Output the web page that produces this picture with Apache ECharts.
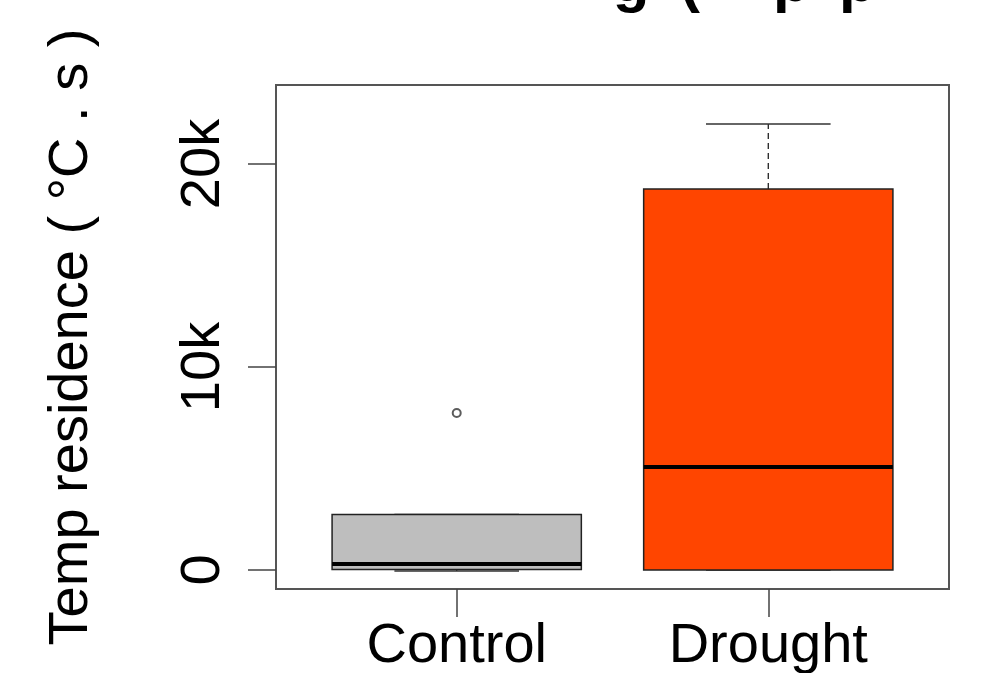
<!DOCTYPE html>
<html>
<head>
<meta charset="utf-8">
<title>Temp residence</title>
<script src="https://cdn.jsdelivr.net/npm/echarts@6/dist/echarts.min.js"></script>
</head>
<body style="margin:0;background:#fff">
<div id="main" style="width:1000px;height:673px;"></div>
<script>
var groups = ['Control', 'Drought'];
var groupColors = ['#bebebe', '#ff4500'];
// lower whisker, Q1, median, Q3, upper whisker
var controlStats = [-50, 30, 300, 2740, 2740];
var droughtStats = [0, 0, 5070, 18770, 21970];
var outliers = [[1, 7730]];
var yTicks = [0, 10000, 20000];
var yTickLabels = ['0', '10k', '20k'];
var xTicks = [1, 2];

var font = 'Liberation Sans, Arial, sans-serif';
var boxData = [[1].concat(controlStats), [2].concat(droughtStats)];

function renderBox(params, api) {
    var x = api.value(0);
    var lo = api.coord([x, api.value(1)]);
    var q1 = api.coord([x, api.value(2)]);
    var med = api.coord([x, api.value(3)]);
    var q3 = api.coord([x, api.value(4)]);
    var hi = api.coord([x, api.value(5)]);
    var w = api.size([0.8, 0])[0];
    var cx = q1[0];
    var half = w / 2, cap = w / 4;
    var dash = { stroke: '#222', lineWidth: 1.3, lineDash: [6, 4] };
    var solid = { stroke: '#333', lineWidth: 1.5 };
    return {
        type: 'group',
        children: [
            { type: 'line', shape: { x1: cx, y1: q3[1], x2: cx, y2: hi[1] }, style: dash },
            { type: 'line', shape: { x1: cx, y1: q1[1], x2: cx, y2: lo[1] }, style: dash },
            { type: 'line', shape: { x1: cx - cap, y1: hi[1], x2: cx + cap, y2: hi[1] }, style: solid },
            { type: 'line', shape: { x1: cx - cap, y1: lo[1], x2: cx + cap, y2: lo[1] }, style: solid },
            {
                type: 'rect',
                shape: { x: cx - half, y: q3[1], width: w, height: q1[1] - q3[1] },
                style: { fill: groupColors[params.dataIndex], stroke: '#222', lineWidth: 1.5 }
            },
            { type: 'line', shape: { x1: cx - half, y1: med[1], x2: cx + half, y2: med[1] }, style: { stroke: '#000', lineWidth: 4 } }
        ]
    };
}

var myChart = echarts.init(document.getElementById('main'));
var titleStyle = { fontFamily: font, fontWeight: 'bold', fontSize: 60, fill: '#000', verticalAlign: 'middle' };
var option = {
    backgroundColor: '#fff',
    animation: false,
    graphic: [
        { type: 'text', x: 631, y: -16, style: Object.assign({ text: 'g', align: 'center' }, titleStyle) },
        { type: 'text', x: 690, y: -16, style: Object.assign({ text: '(', align: 'center' }, titleStyle) },
        { type: 'text', x: 773, y: -16, style: Object.assign({ text: 'p', align: 'left' }, titleStyle) },
        { type: 'text', x: 839, y: -16, style: Object.assign({ text: 'p', align: 'left' }, titleStyle) }
    ],
    grid: {
        left: 276, top: 85, right: 51, bottom: 84,
        outerBoundsMode: 'none', containLabel: false,
        show: true, borderColor: '#555', borderWidth: 2
    },
    xAxis: {
        type: 'value', min: 0.42, max: 2.58,
        axisLine: { show: false, onZero: false },
        splitLine: { show: false },
        axisTick: { customValues: xTicks, length: 28, lineStyle: { color: '#444', width: 1.5 } },
        axisLabel: {
            customValues: xTicks, margin: 30,
            fontFamily: font, fontSize: 56, color: '#000',
            formatter: function (v) { return groups[Math.round(v) - 1]; }
        }
    },
    yAxis: {
        type: 'value', min: -936, max: 23892,
        name: 'Temp residence ( \u00b0C . s )',
        nameLocation: 'middle', nameRotate: 90, nameGap: 176,
        nameTextStyle: { fontFamily: font, fontSize: 56, color: '#000' },
        axisLine: { show: false, onZero: false },
        splitLine: { show: false },
        axisTick: { customValues: yTicks, length: 28, lineStyle: { color: '#444', width: 1.5 } },
        axisLabel: {
            customValues: yTicks, rotate: 90, margin: 44,
            fontFamily: font, fontSize: 56, color: '#000',
            formatter: function (v) { return yTickLabels[yTicks.indexOf(v)]; }
        }
    },
    series: [
        {
            type: 'custom',
            renderItem: renderBox,
            encode: { x: 0, y: [1, 2, 3, 4, 5] },
            data: boxData
        },
        {
            type: 'scatter',
            symbol: 'emptyCircle', symbolSize: 8,
            itemStyle: { color: '#333', borderColor: '#333', borderWidth: 1.5 },
            data: outliers
        }
    ]
};
myChart.setOption(option);
</script>
</body>
</html>
